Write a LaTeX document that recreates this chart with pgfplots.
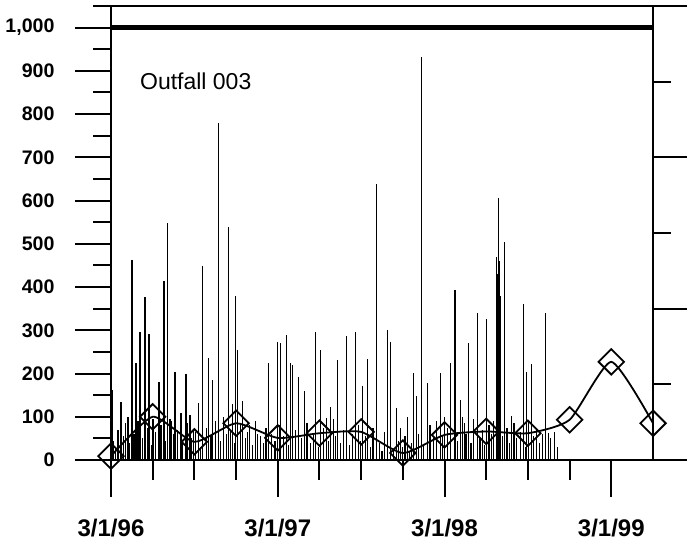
\documentclass[border=0pt]{standalone}
\usepackage{pgfplots}
\pgfplotsset{compat=1.18}
\usepackage{pgfplotstable}
\usepackage{fontspec}
\setmainfont{Liberation Sans}
\pgfplotstableread{
m v
0.07 162
0.72 135
1.22 100
1.51 462
1.80 225
2.08 297
2.44 378
2.73 292
3.02 95
3.45 181
3.81 413
4.09 548
4.38 90
4.60 204
5.03 109
5.39 200
5.68 105
5.96 70
6.32 132
6.61 448
7.04 237
7.33 185
7.76 780
8.12 100
8.48 540
8.76 130
8.98 380
9.12 255
9.48 137
9.99 80
10.56 60
11.35 225
12.00 274
12.21 271
12.64 288
12.93 225
13.07 220
13.51 193
13.94 160
14.73 295
15.09 255
15.52 98
15.80 123
16.31 232
16.95 286
17.60 297
18.10 170
18.46 234
19.11 638
19.90 300
20.11 274
20.55 121
20.83 75
21.34 100
21.77 201
21.98 147
22.34 933
22.77 178
23.71 201
23.99 100
24.43 225
24.75 394
25.14 139
25.29 100
25.72 271
26.36 339
27.01 327
27.73 470
27.80 430
27.87 607
27.95 460
28.02 380
28.30 504
28.81 102
29.67 360
29.89 204
30.24 223
31.25 339
31.47 63
31.90 65
}\spikes
\pgfplotstableread{
m v
0.15 45
0.35 30
0.5 70
0.9 55
1.05 85
1.35 40
1.65 60
1.95 90
2.25 50
2.6 75
2.9 35
3.2 65
3.6 80
3.95 45
4.25 95
4.5 60
4.8 70
5.15 40
5.5 85
5.8 50
6.1 65
6.45 30
6.9 75
7.2 55
7.5 90
7.9 45
8.3 60
8.6 70
8.9 40
9.3 85
9.65 50
9.85 65
10.2 35
10.4 90
10.75 55
10.95 40
11.15 75
11.55 60
11.8 45
12.1 80
12.4 55
12.8 35
13.25 70
13.7 50
14.1 85
14.35 40
14.55 60
14.95 30
15.3 75
15.65 45
16.0 95
16.15 55
16.5 40
16.75 70
17.15 35
17.35 60
17.8 80
17.95 45
18.3 55
18.65 30
18.85 75
19.3 40
19.5 20
19.7 65
20.3 25
20.7 45
21.0 30
21.15 55
21.5 20
21.6 40
22.1 60
22.5 35
22.95 80
23.2 50
23.45 90
23.85 55
24.2 75
24.95 45
25.45 85
25.55 60
25.9 40
26.1 95
26.55 50
26.75 70
26.9 35
27.2 80
27.4 60
27.55 90
28.15 55
28.5 75
28.65 40
29.0 85
29.2 50
29.45 65
29.8 30
30.05 90
30.4 55
30.6 75
30.85 40
31.05 60
31.65 50
32.1 30
}\smallspikes
\pgfplotstableread{
m v
0 9
3 100
6 42
9 85
12 51
15 62
18 65
21 16
24 58
27 66
30 62
33 93
36 227
39 85
}\quarterly
\pgfplotsset{
  frame/.style={
    scale only axis, width=542pt, height=454pt,
    at={(0,0)}, anchor=south west,
    xmin=0, xmax=39,
    axis line style={line width=2pt},
    tick align=outside,
    every tick/.style={black, line width=2pt},
  },
}
\begin{document}
\begin{tikzpicture}
\useasboundingbox (-111pt,-84pt) rectangle (576pt,460pt);
% right axis: long ticks
\begin{axis}[frame, ymin=0, ymax=6,
  hide x axis, axis y line*=right,
  ytick={0,2,4,6}, yticklabels={},
  ticklabel style={inner sep=0pt},
  major tick length=34pt,
]
\addplot[draw=none] coordinates {(0,0)};
\end{axis}
% right axis: short ticks
\begin{axis}[frame, ymin=0, ymax=6,
  hide x axis, axis y line*=right,
  ytick={1,3,5}, yticklabels={},
  ticklabel style={inner sep=0pt},
  major tick length=18pt,
]
\addplot[draw=none] coordinates {(0,0)};
\end{axis}
% main axis with labels
\begin{axis}[frame, ymin=0, ymax=1050,
  clip=false,
  xtick pos=bottom, ytick pos=left,
  major tick length=36pt,
  xtick={0,12,24,36},
  xticklabels={3/1/96,3/1/97,3/1/98,3/1/99},
  ytick={0,100,...,1000},
  yticklabels={0,100,200,300,400,500,600,700,800,900,{1,000}},
  yticklabel style={font=\bfseries\fontsize{19.6}{22}\selectfont, xshift=-17pt},
  xticklabel style={font=\bfseries\fontsize{24}{28}\selectfont, yshift=-20pt},
]
\pgfplotsinvokeforeach{0,100,...,1000}{\draw[line width=2pt] (axis cs:0,#1) -- ++(-35pt,0pt);}
\pgfplotsinvokeforeach{50,150,...,1050}{\draw[line width=2pt] (axis cs:0,#1) -- ++(-18pt,0pt);}
\pgfplotsinvokeforeach{0,12,24,36}{\draw[line width=2pt] (axis cs:#1,0) -- ++(0pt,-37pt);}
\pgfplotsinvokeforeach{3,6,9,15,18,21,27,30,33}{\draw[line width=2pt] (axis cs:#1,0) -- ++(0pt,-20pt);}
\addplot[ycomb, line width=1.2pt, black, no marks] table[x=m, y=v] {\smallspikes};
\addplot[ycomb, line width=1.2pt, black, no marks] table[x=m, y=v] {\spikes};
\addplot[black, line width=5pt, no marks] coordinates {(0,1000) (39,1000)};
\addplot[black, line width=1.8pt, smooth, tension=0.35, mark=square, mark size=9pt,
  mark options={rotate=45, line width=1.8pt, solid, fill=none}] table[x=m, y=v] {\quarterly};
\node[anchor=base west, inner sep=0pt, font=\fontsize{23}{26}\selectfont] at (axis cs:2.08,858) {Outfall 003};
\end{axis}
\end{tikzpicture}
\end{document}
